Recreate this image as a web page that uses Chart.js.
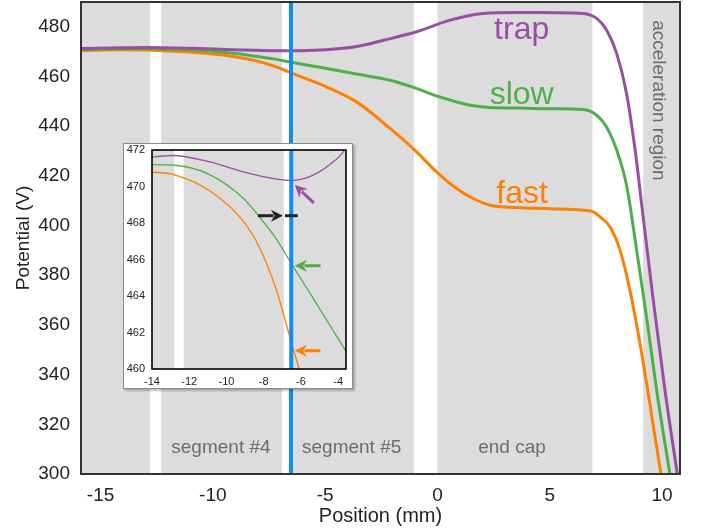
<!DOCTYPE html>
<html>
<head>
<meta charset="utf-8">
<title>Potential along the trap axis</title>
<script src="https://cdn.jsdelivr.net/npm/chart.js@4/dist/chart.umd.min.js"></script>
<style>
  html, body { margin: 0; padding: 0; background: #fff; }
  #wrap { position: relative; width: 702px; height: 528px; }
  #mainChart { position: absolute; left: 0; top: 0; }
  #insetBox {
    position: absolute; left: 123px; top: 143px; width: 228px; height: 244px;
    border: 1px solid #8a8a8a; background: #fff;
    box-shadow: 2px 2px 2px rgba(0, 0, 0, 0.25);
  }
</style>
</head>
<body>
<div id="wrap">
  <canvas id="mainChart" width="702" height="528"></canvas>
  <div id="insetBox"><canvas id="insetChart" width="228" height="244"></canvas></div>
</div>
<script>
// ---- data (position in mm, potential in V) ----
const trapPos = [-15.87, -14, -12.9, -10.9, -9.1, -7.3, -6.5, -5.5, -4.45, -3.65, -2.4, -0.93, 0.56, 2.04, 3.53, 5.2, 6.49, 7.09, 7.53, 7.98, 8.42, 8.8, 9.16, 9.61, 10.13, 10.68];
const trapV   = [471.3, 471.6, 471.7, 471.35, 470.8, 470.4, 470.33, 470.55, 471.2, 472.0, 474.6, 478.0, 482.7, 485.4, 485.8, 485.7, 485.4, 483.4, 478.7, 469.3, 453.2, 430.5, 403.5, 369.9, 333.7, 300];

const slowPos = [-15.87, -14, -12.66, -10.88, -9.1, -8.2, -7.31, -6.5, -5.3, -3.6, -2.11, -0.93, -0.04, 0.85, 1.59, 2.34, 3.53, 5.2, 6.49, 7.09, 7.53, 7.98, 8.42, 8.87, 9.31, 9.76, 10.35];
const slowV   = [470.9, 471.2, 471.15, 470.64, 469.36, 468.3, 467.1, 465.75, 463.8, 461.0, 458.5, 455.2, 452.2, 449.8, 448.2, 447.5, 447.3, 447.0, 446.7, 444.4, 439.7, 430.4, 416.3, 390.1, 363.2, 333.7, 300];

const fastPos = [-15.87, -14, -12.66, -10.88, -9.1, -8.2, -7.31, -6.5, -5.08, -3.6, -2.11, -0.93, -0.04, 0.85, 1.59, 2.34, 3.5, 5.0, 6.49, 6.94, 7.24, 7.68, 8.13, 8.57, 9.02, 9.34, 9.95];
const fastV   = [470.5, 470.78, 470.6, 469.75, 468.1, 466.6, 464.3, 461.4, 456.4, 449.8, 439.1, 429.7, 421.6, 414.9, 410.9, 408.2, 407.3, 406.8, 406.2, 405.5, 403.5, 399.5, 390.1, 374.0, 352.5, 335.0, 300];

// electrode regions (grey) and the probe position (blue line)
const electrodeStart = [-16, -12.3, -6.6, 0, 9.16];
const electrodeEnd   = [-12.8, -6.92, -1.05, 6.9, 11];
const probePos = -6.52;

// tick values
const positionTicks = [-15, -10, -5, 0, 5, 10];
const potentialTicks = [300, 320, 340, 360, 380, 400, 420, 440, 460, 480];
const insetPosTicks = [-14, -12, -10, -8, -6, -4];
const insetVTicks = [460, 462, 464, 466, 468, 470, 472];

// text labels
const curveNames = ['trap', 'slow', 'fast'];
const curveNameX = [3.75, 3.75, 3.77];
const curveNameY = [475.3, 448.9, 409.1];
const regionNames = ['segment #4', 'segment #5', 'end cap'];
const regionNameX = [-9.64, -3.82, 3.32];
const regionNameY = 308.4;
const accelLabel = 'acceleration region';
const accelX = 9.82;
const accelTop = 482.7;

// inset arrows (tail -> head), plus the black reference mark
const arrowFromX = [-5.31, -8.31, -4.95, -4.95];
const arrowFromY = [469.1, 468.4, 465.66, 461.0];
const arrowToX   = [-6.33, -6.97, -6.33, -6.33];
const arrowToY   = [470.08, 468.4, 465.66, 461.0];
const markFromX = -6.86, markToX = -6.17, markY = 468.4;

const PURPLE = '#984ea3', GREEN = '#4daf4a', ORANGE = '#ff7f00';
const BLUE = '#0d8ef5', BAND = '#dcdcdc', LABEL = '#6b6b6b';
const arrowColors = [PURPLE, '#222', GREEN, ORANGE];
const FONT = "'Liberation Sans', Arial, Helvetica, sans-serif";

Chart.defaults.font.family = FONT;

function toPoints(pos, vals) {
  return pos.map((x, i) => ({ x: x, y: vals[i] }));
}

function makeDatasets(width) {
  return [
    { label: 'trap', data: toPoints(trapPos, trapV), borderColor: PURPLE },
    { label: 'slow', data: toPoints(slowPos, slowV), borderColor: GREEN },
    { label: 'fast', data: toPoints(fastPos, fastV), borderColor: ORANGE }
  ].map(ds => Object.assign(ds, {
    showLine: true,
    pointRadius: 0,
    borderWidth: width,
    cubicInterpolationMode: 'monotone',
    fill: false
  }));
}

function drawArrow(ctx, x1, y1, x2, y2, color) {
  const ang = Math.atan2(y2 - y1, x2 - x1);
  const headLen = 12, headW = 6;
  const c = Math.cos(ang), s = Math.sin(ang);
  ctx.strokeStyle = color;
  ctx.fillStyle = color;
  ctx.lineWidth = 3;
  ctx.beginPath();
  ctx.moveTo(x1, y1);
  ctx.lineTo(x2 - headLen * 0.8 * c, y2 - headLen * 0.8 * s);
  ctx.stroke();
  ctx.beginPath();
  ctx.moveTo(x2, y2);
  ctx.lineTo(x2 - headLen * c + headW * s, y2 - headLen * s - headW * c);
  ctx.lineTo(x2 - headLen * 0.7 * c, y2 - headLen * 0.7 * s);
  ctx.lineTo(x2 - headLen * c - headW * s, y2 - headLen * s + headW * c);
  ctx.closePath();
  ctx.fill();
}

// Shading, probe line, frame and annotations
const decorPlugin = {
  id: 'decor',
  beforeDatasetsDraw(chart, args, opts) {
    const { ctx, chartArea: a, scales: { x, y } } = chart;
    ctx.save();
    ctx.fillStyle = BAND;
    electrodeStart.forEach((s, i) => {
      const x0 = Math.max(a.left, x.getPixelForValue(s));
      const x1 = Math.min(a.right, x.getPixelForValue(electrodeEnd[i]));
      if (x1 > x0) ctx.fillRect(x0, a.top, x1 - x0, a.bottom - a.top);
    });
    if (opts.labels) {
      ctx.fillStyle = LABEL;
      ctx.font = '19px ' + FONT;
      ctx.textAlign = 'center';
      ctx.textBaseline = 'alphabetic';
      regionNames.forEach((t, i) => {
        ctx.fillText(t, x.getPixelForValue(regionNameX[i]), y.getPixelForValue(regionNameY));
      });
      ctx.save();
      ctx.translate(x.getPixelForValue(accelX), y.getPixelForValue(accelTop));
      ctx.rotate(Math.PI / 2);
      ctx.textAlign = 'left';
      ctx.textBaseline = 'middle';
      ctx.fillText(accelLabel, 0, 0);
      ctx.restore();
    }
    ctx.restore();
  },
  afterDatasetsDraw(chart, args, opts) {
    const { ctx, chartArea: a, scales: { x, y } } = chart;
    ctx.save();
    // probe position
    const px = x.getPixelForValue(probePos);
    ctx.strokeStyle = BLUE;
    ctx.lineWidth = 4;
    ctx.beginPath();
    ctx.moveTo(px, a.top);
    ctx.lineTo(px, a.bottom);
    ctx.stroke();

    if (opts.labels) {
      ctx.font = '32px ' + FONT;
      ctx.textAlign = 'center';
      ctx.textBaseline = 'alphabetic';
      curveNames.forEach((t, i) => {
        ctx.fillStyle = [PURPLE, GREEN, ORANGE][i];
        ctx.fillText(t, x.getPixelForValue(curveNameX[i]), y.getPixelForValue(curveNameY[i]));
      });
    }

    if (opts.arrows) {
      arrowFromX.forEach((fx, i) => {
        drawArrow(ctx, x.getPixelForValue(fx), y.getPixelForValue(arrowFromY[i]),
          x.getPixelForValue(arrowToX[i]), y.getPixelForValue(arrowToY[i]), arrowColors[i]);
      });
      ctx.strokeStyle = '#222';
      ctx.lineWidth = 3;
      ctx.beginPath();
      ctx.moveTo(x.getPixelForValue(markFromX), y.getPixelForValue(markY));
      ctx.lineTo(x.getPixelForValue(markToX), y.getPixelForValue(markY));
      ctx.stroke();
    }

    // frame
    ctx.strokeStyle = opts.frameColor;
    ctx.lineWidth = opts.frameWidth;
    ctx.strokeRect(a.left, a.top, a.right - a.left, a.bottom - a.top);
    ctx.restore();
  }
};

function axis(min, max, tickVals, fontSize, padding, size, isX, title) {
  const cfg = {
    type: 'linear',
    min: min,
    max: max,
    grid: { display: false, drawTicks: false },
    border: { display: false },
    afterBuildTicks: s => { s.ticks = tickVals.map(v => ({ value: v })); },
    afterFit: s => {
      // fixed box size, no extra room for overhanging end labels
      if (isX) s.height = size; else s.width = size;
      s.paddingTop = 0; s.paddingBottom = 0;
      s.paddingLeft = 0; s.paddingRight = 0;
    },
    ticks: {
      padding: padding,
      autoSkip: false,
      maxRotation: 0,
      color: '#222',
      font: { size: fontSize }
    }
  };
  if (title) cfg.title = title;
  return cfg;
}

// Main chart
new Chart(document.getElementById('mainChart'), {
  type: 'scatter',
  data: { datasets: makeDatasets(3) },
  options: {
    responsive: false,
    devicePixelRatio: 1,
    animation: false,
    layout: { padding: { top: 2, right: 22, left: 0, bottom: 0 } },
    scales: {
      x: axis(-15.87, 10.8, positionTicks, 19, 10, 54, true,
        { display: true, text: 'Position (mm)', color: '#222', font: { size: 20 }, padding: { top: 0, bottom: 0 } }),
      y: axis(300, 490, potentialTicks, 19, 11, 81, false,
        { display: true, text: 'Potential (V)', color: '#222', font: { size: 19 }, padding: { top: 12, bottom: 0 } })
    },
    plugins: {
      legend: { display: false },
      tooltip: { enabled: false },
      decor: { labels: true, arrows: false, frameColor: '#333', frameWidth: 2 }
    }
  },
  plugins: [decorPlugin]
});

// Inset zoom around the probe position
new Chart(document.getElementById('insetChart'), {
  type: 'scatter',
  data: { datasets: makeDatasets(1.3) },
  options: {
    responsive: false,
    devicePixelRatio: 1,
    animation: false,
    layout: { padding: { top: 6, right: 6, left: 0, bottom: 0 } },
    scales: {
      x: axis(-14, -3.58, insetPosTicks, 11, 6, 19, true),
      y: axis(460, 472, insetVTicks, 11, 7, 28, false)
    },
    plugins: {
      legend: { display: false },
      tooltip: { enabled: false },
      decor: { labels: false, arrows: true, frameColor: '#000', frameWidth: 1.6 }
    }
  },
  plugins: [decorPlugin]
});
</script>
</body>
</html>
